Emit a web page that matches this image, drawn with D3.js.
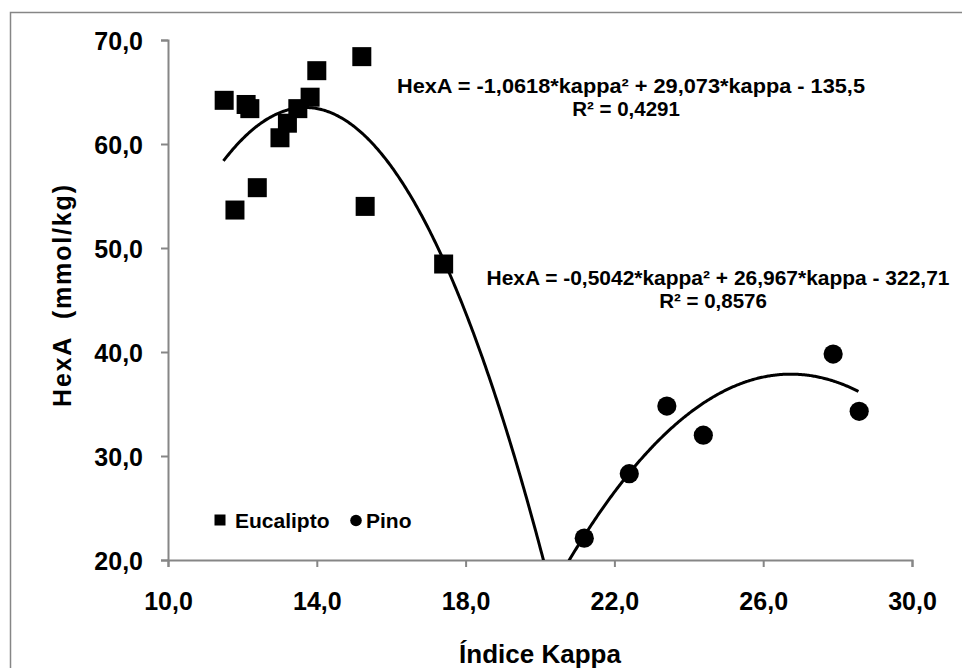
<!DOCTYPE html>
<html>
<head>
<meta charset="utf-8">
<script src="https://cdn.jsdelivr.net/npm/d3@7"></script>
<style>
  body { margin: 0; background: #fff; }
  svg { display: block; font-family: "Liberation Sans", Arial, sans-serif; font-weight: bold; }
</style>
</head>
<body>
<svg id="chart" width="962" height="668"></svg>
<script>
// data
eucalipto = [
  [11.51, 64.2], [12.1, 63.8], [12.2, 63.4], [12.4, 55.8], [11.8, 53.65],
  [13.01, 60.6], [13.21, 62.0], [13.49, 63.4], [13.82, 64.5], [14.0, 67.05],
  [15.21, 68.4], [15.3, 54.0], [17.41, 48.46]
];
pino = [
  [21.19, 22.1], [22.4, 28.3], [23.41, 34.8], [24.39, 32.0], [27.88, 39.8], [28.58, 34.3]
];
// trendline coefficients [a, b, c] and drawn range
eucFit = [-1.0618, 29.073, -135.5];
eucRange = [11.49, 21];
pinoFit = [-0.5042, 26.967, -322.71];
pinoRange = [20, 28.56];
eucLabel = ["HexA = -1,0618*kappa\u00b2 + 29,073*kappa - 135,5", "R\u00b2 = 0,4291"];
pinoLabel = ["HexA = -0,5042*kappa\u00b2 + 26,967*kappa - 322,71", "R\u00b2 = 0,8576"];
xTicks = [10, 14, 18, 22, 26, 30];
yTicks = [20, 30, 40, 50, 60, 70];

let svg = d3.select("#chart");
let axisColor = "#868686";

svg.append("rect")
  .attr("x", 10.5).attr("y", 12.5)
  .attr("width", 970).attr("height", 680)
  .attr("fill", "none").attr("stroke", axisColor).attr("stroke-width", 1.5);

let x = d3.scaleLinear().domain([10, 30]).range([168, 912]);
let y = d3.scaleLinear().domain([20, 70]).range([560, 40]);
let fmt = d => d3.format(".1f")(d).replace(".", ",");

svg.append("defs").append("clipPath").attr("id", "plot")
  .append("rect").attr("x", 168).attr("y", 40).attr("width", 744).attr("height", 520);

// axes
let yAxis = svg.append("g").attr("transform", "translate(168,0)")
  .call(d3.axisLeft(y).tickValues(yTicks).tickFormat(fmt).tickSize(7).tickPadding(18));
let xAxis = svg.append("g").attr("transform", "translate(0,560)")
  .call(d3.axisBottom(x).tickValues(xTicks).tickFormat(fmt).tickSize(7).tickPadding(25));
[xAxis, yAxis].forEach(a => {
  a.select(".domain").attr("stroke", axisColor).attr("stroke-width", 2);
  a.selectAll(".tick line").attr("stroke", axisColor).attr("stroke-width", 2);
  a.selectAll(".tick text").attr("fill", "#000").style("font-size", "25px")
    .style("font-family", "'Liberation Sans', Arial, sans-serif").style("font-weight", "bold");
});
yAxis.selectAll(".tick text").attr("dy", "0.36em");

// trendlines
function curvePoints(fit, range) {
  let pts = [];
  for (let i = 0; i <= 300; i++) {
    let k = range[0] + (range[1] - range[0]) * i / 300;
    pts.push([k, fit[0] * k * k + fit[1] * k + fit[2]]);
  }
  return pts;
}
let line = d3.line().x(d => x(d[0])).y(d => y(d[1]));
let trends = svg.append("g").attr("clip-path", "url(#plot)");
[[eucFit, eucRange], [pinoFit, pinoRange]].forEach(t => {
  trends.append("path").attr("d", line(curvePoints(t[0], t[1])))
    .attr("fill", "none").attr("stroke", "#000").attr("stroke-width", 3);
});

// markers
svg.append("g").selectAll("rect").data(eucalipto).join("rect")
  .attr("x", d => x(d[0]) - 9.5).attr("y", d => y(d[1]) - 9.5)
  .attr("width", 19).attr("height", 19).attr("fill", "#000");
svg.append("g").selectAll("circle").data(pino).join("circle")
  .attr("cx", d => x(d[0])).attr("cy", d => y(d[1])).attr("r", 9.6).attr("fill", "#000");

// equation labels
function eqLabel(lines, cx, y0, w) {
  svg.append("text").attr("x", cx).attr("y", y0).attr("text-anchor", "middle")
    .attr("textLength", w).attr("lengthAdjust", "spacingAndGlyphs")
    .style("font-size", "21px").text(lines[0]);
  svg.append("text").attr("x", cx - 5).attr("y", y0 + 23).attr("text-anchor", "middle")
    .style("font-size", "20.5px").text(lines[1]);
}
eqLabel(eucLabel, 631, 93, 468);
eqLabel(pinoLabel, 718, 285, 463);

// legend
let legend = svg.append("g");
legend.append("rect").attr("x", 214.5).attr("y", 514.5).attr("width", 11).attr("height", 11).attr("fill", "#000");
legend.append("text").attr("x", 235).attr("y", 528).style("font-size", "21px").text("Eucalipto");
legend.append("circle").attr("cx", 356).attr("cy", 520.5).attr("r", 5.8).attr("fill", "#000");
legend.append("text").attr("x", 366).attr("y", 528).style("font-size", "21px").text("Pino");

// axis titles
svg.append("text").attr("x", 540).attr("y", 663).attr("text-anchor", "middle")
  .style("font-size", "26px").text("Índice Kappa");
svg.append("text").attr("transform", "translate(71,296) rotate(-90)").attr("text-anchor", "middle")
  .attr("textLength", 222).attr("lengthAdjust", "spacing")
  .style("font-size", "25px").style("white-space", "pre").text("HexA  (mmol/kg)");
</script>
</body>
</html>
